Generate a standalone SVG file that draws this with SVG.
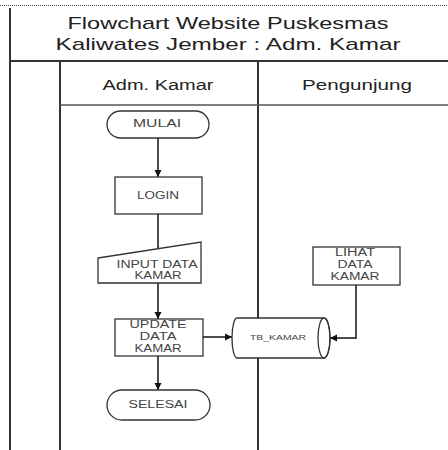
<svg xmlns="http://www.w3.org/2000/svg" width="448" height="450" viewBox="0 0 448 450">
<defs>
<marker id="arr" markerWidth="8" markerHeight="8" refX="7" refY="4" orient="auto" markerUnits="userSpaceOnUse">
<path d="M0,0.5 L7,4 L0,7.5 Z" fill="#111"/>
</marker>
<style>
.frame{stroke:#333;stroke-width:2;fill:none}
.thin{stroke:#555;stroke-width:1.3;fill:none}
.shape{fill:#fff;stroke:#333;stroke-width:1.3}
.conn{stroke:#111;stroke-width:1.5;fill:none;marker-end:url(#arr)}
.title{font-family:"Liberation Sans",Arial,sans-serif;font-size:17px;fill:#222;text-anchor:middle}
.head{font-family:"Liberation Sans",Arial,sans-serif;font-size:14px;fill:#222;text-anchor:middle}
.lbl{font-family:"Liberation Sans",Arial,sans-serif;font-size:10px;fill:#444;text-anchor:middle}
.small{font-family:"Liberation Sans",Arial,sans-serif;font-size:7px;fill:#444;text-anchor:middle}
</style>
</defs>
<rect width="448" height="450" fill="#fff"/>
<g id="swimlanes">
<line x1="0" y1="5.5" x2="448" y2="5.5" stroke="#444" stroke-width="1" stroke-dasharray="1,1"/>
<line class="frame" x1="10" y1="8" x2="10" y2="450"/>
<line class="frame" x1="10" y1="61" x2="448" y2="61"/>
<line class="frame" x1="60" y1="61" x2="60" y2="450"/>
<line class="frame" x1="258" y1="61" x2="258" y2="450"/>
<line class="thin" x1="60" y1="105" x2="448" y2="105"/>
<text class="title" x="228" y="29" textLength="321" lengthAdjust="spacingAndGlyphs">Flowchart Website Puskesmas</text>
<text class="title" x="228" y="50" textLength="345" lengthAdjust="spacingAndGlyphs">Kaliwates Jember : Adm. Kamar</text>
<text class="head" x="158" y="90" textLength="111" lengthAdjust="spacingAndGlyphs">Adm. Kamar</text>
<text class="head" x="357" y="90" textLength="110" lengthAdjust="spacingAndGlyphs">Pengunjung</text>
</g>
<g id="connectors">
<line class="conn" x1="158" y1="138" x2="158" y2="177"/>
<line class="conn" x1="158" y1="214" x2="158" y2="256"/>
<line class="conn" x1="158" y1="283" x2="158" y2="319"/>
<line class="conn" x1="158" y1="356" x2="158" y2="390"/>
<line class="conn" x1="203" y1="337" x2="232" y2="337"/>
<path class="conn" d="M356,285 V338 H330"/>
</g>
<g id="mulai">
<rect class="shape" x="107" y="111" width="102" height="27" rx="13.5"/>
<text class="lbl" x="157" y="127" textLength="48" lengthAdjust="spacingAndGlyphs">MULAI</text>
</g>
<g id="login">
<rect class="shape" x="115" y="177" width="87" height="37"/>
<text class="lbl" x="158" y="199" textLength="42" lengthAdjust="spacingAndGlyphs">LOGIN</text>
</g>
<g id="input-data-kamar">
<polygon class="shape" points="98,258 201,242 201,283 98,283"/>
<text class="lbl" x="157" y="268" textLength="81" lengthAdjust="spacingAndGlyphs">INPUT DATA</text>
<text class="lbl" x="158" y="279" textLength="47" lengthAdjust="spacingAndGlyphs">KAMAR</text>
</g>
<g id="update-data-kamar">
<rect class="shape" x="115" y="319" width="88" height="37"/>
<text class="lbl" x="158" y="328" textLength="57" lengthAdjust="spacingAndGlyphs">UPDATE</text>
<text class="lbl" x="158" y="340" textLength="37" lengthAdjust="spacingAndGlyphs">DATA</text>
<text class="lbl" x="158" y="352" textLength="47" lengthAdjust="spacingAndGlyphs">KAMAR</text>
</g>
<g id="selesai">
<rect class="shape" x="107" y="390" width="103" height="30" rx="15"/>
<text class="lbl" x="158" y="408" textLength="59" lengthAdjust="spacingAndGlyphs">SELESAI</text>
</g>
<g id="tb-kamar">
<path class="shape" d="M237,318 L324,318 A6,20 0 0 1 324,358 L237,358 A5,20 0 0 1 237,318 Z"/>
<ellipse cx="324" cy="338" rx="6" ry="20" fill="none" stroke="#333" stroke-width="1.3"/>
<text class="small" x="278" y="340" textLength="56" lengthAdjust="spacingAndGlyphs">TB_KAMAR</text>
</g>
<g id="lihat-data-kamar">
<rect class="shape" x="313" y="247" width="87" height="38"/>
<text class="lbl" x="355" y="256" textLength="40" lengthAdjust="spacingAndGlyphs">LIHAT</text>
<text class="lbl" x="355" y="268" textLength="35" lengthAdjust="spacingAndGlyphs">DATA</text>
<text class="lbl" x="355" y="280" textLength="49" lengthAdjust="spacingAndGlyphs">KAMAR</text>
</g>
</svg>
